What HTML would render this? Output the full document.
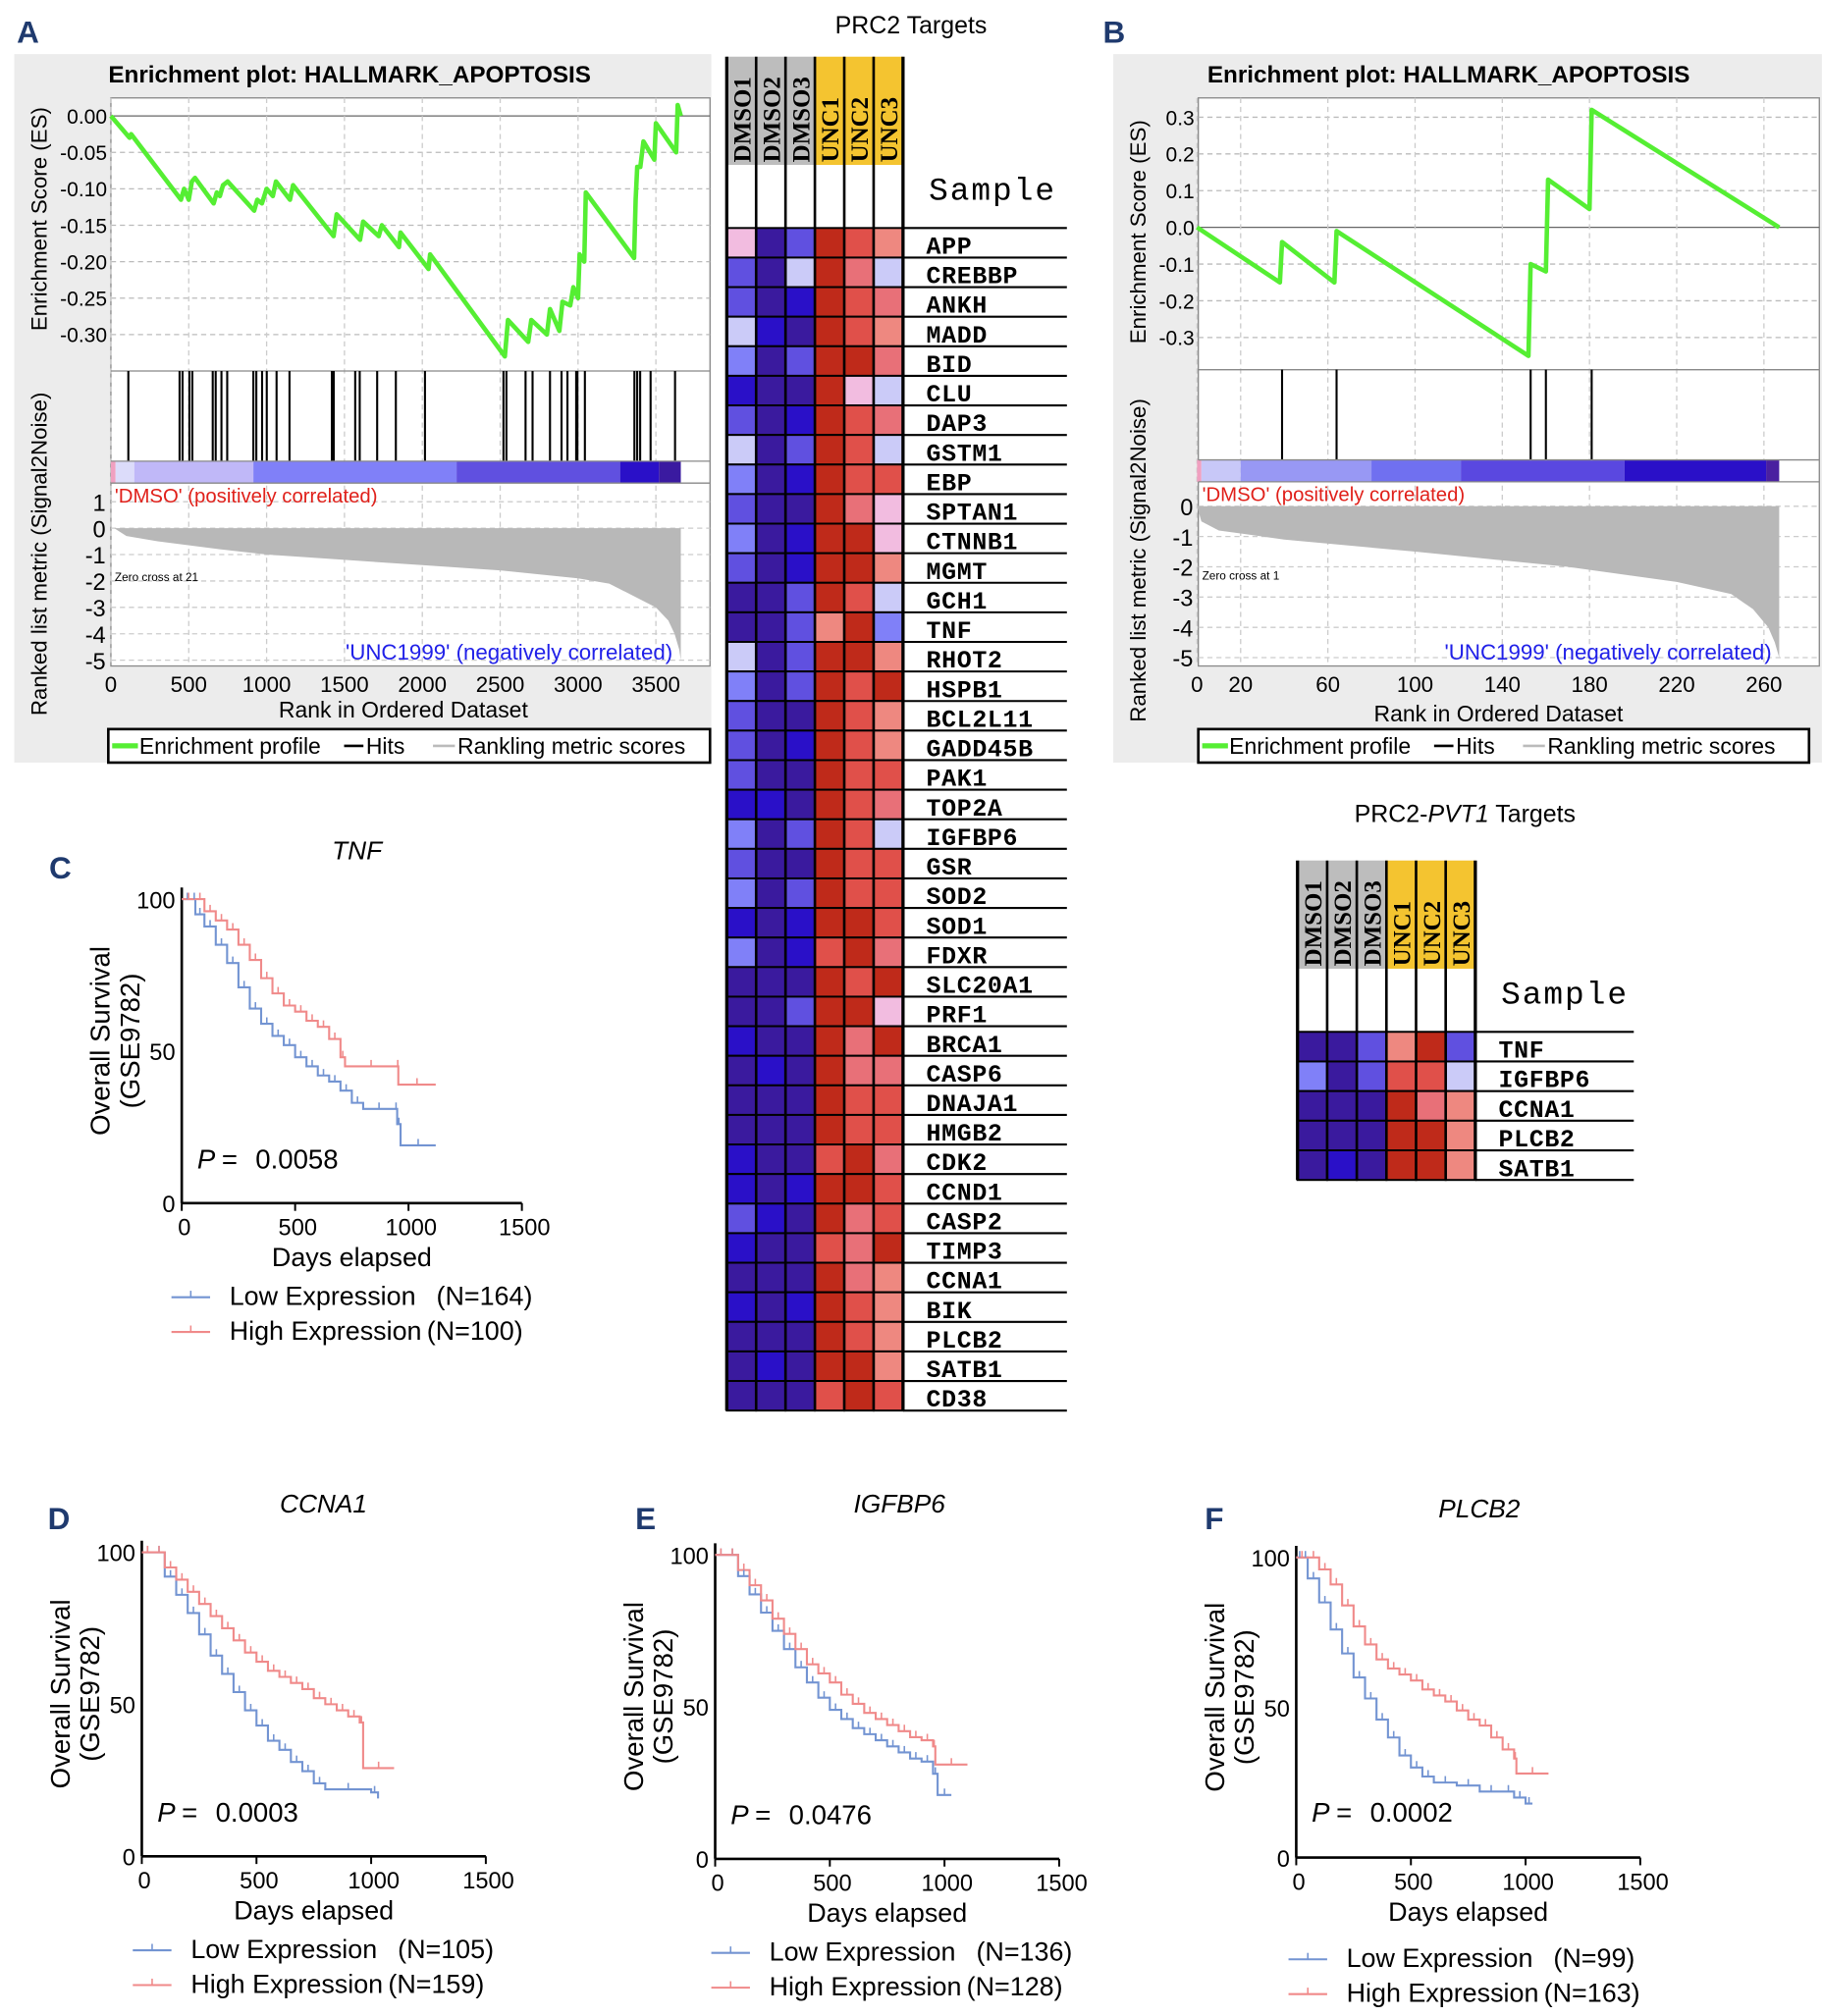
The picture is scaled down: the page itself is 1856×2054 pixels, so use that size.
<!DOCTYPE html>
<html><head><meta charset="utf-8"><style>
html,body{margin:0;padding:0;background:#fff;}
svg{display:block;font-family:"Liberation Sans",sans-serif;}
</style></head><body>
<svg id="fig" xmlns="http://www.w3.org/2000/svg" width="1856" height="2054" viewBox="0 0 1414 1565"></svg>
<script>
// ===== Data: GSEA panel A =====
const esRankA=[0,120,130,450,470,500,520,540,660,680,700,720,750,920,940,970,1000,1040,1060,1150,1170,1430,1450,1600,1620,1720,1740,1850,1860,2040,2050,2530,2550,2680,2700,2800,2820,2880,2900,2950,2970,3000,3010,3040,3050,3360,3370,3380,3400,3420,3490,3500,3630,3640,3660];
const esValA=[0,-0.03,-0.025,-0.115,-0.10,-0.115,-0.09,-0.085,-0.12,-0.105,-0.11,-0.095,-0.09,-0.13,-0.115,-0.12,-0.10,-0.11,-0.09,-0.115,-0.095,-0.165,-0.135,-0.17,-0.145,-0.165,-0.15,-0.18,-0.16,-0.21,-0.19,-0.33,-0.28,-0.31,-0.28,-0.30,-0.265,-0.295,-0.255,-0.26,-0.235,-0.25,-0.19,-0.20,-0.105,-0.195,-0.115,-0.07,-0.07,-0.035,-0.06,-0.01,-0.05,0.015,0.0];
const hitsA=[112,441,460,504,523,654,673,710,747,915,934,971,1001,1064,1147,1419,1431,1569,1598,1710,1830,2017,2521,2540,2663,2708,2820,2894,2932,2988,2996,3044,3362,3380,3399,3466,3623];
const metricRankA=[0,21,100,300,700,1000,1500,2000,2500,3000,3200,3300,3400,3500,3580,3620,3650,3660];
const metricValA=[1,0,-0.3,-0.5,-0.8,-1,-1.2,-1.4,-1.6,-1.9,-2.1,-2.4,-2.7,-3,-3.5,-4,-4.6,-5];
const barStopsA=[0,30,150,915,2220,3270,3520,3660];
const barColsA=["#f0a0c0","#dcdcfa","#c0b8f8","#8080f8","#6050e0","#2a10c8","#3a1aa0"];
const esTicksA=["0.00","-0.05","-0.10","-0.15","-0.20","-0.25","-0.30"];
const xTicksA=[0,500,1000,1500,2000,2500,3000,3500];
const mTicksA=[1,0,-1,-2,-3,-4,-5];
// ===== Data: GSEA panel B =====
const esRankB=[0,38,39,63,64,152,153,160,161,180,181,267];
const esValB=[0,-0.15,-0.04,-0.15,-0.01,-0.35,-0.10,-0.12,0.13,0.05,0.32,0.0];
const hitsB=[39,64,153,160,181];
const metricRankB=[0,2,10,40,100,170,220,245,255,262,265,267];
const metricValB=[0,-0.5,-0.8,-1.1,-1.5,-2,-2.5,-2.9,-3.4,-4,-4.5,-5];
const barStopsB=[0,2,20,80,121,196,261,267];
const barColsB=["#f0a0c0","#c8c8f8","#9898f4","#7070f0","#5a48e0","#2a10c8","#4a20a0"];
const esTicksB=["0.3","0.2","0.1","0.0","-0.1","-0.2","-0.3"];
const xTicksB=[0,20,60,100,140,180,220,260];
const mTicksB=[0,-1,-2,-3,-4,-5];
// ===== Data: heatmaps =====
const samples=["DMSO1","DMSO2","DMSO3","UNC1","UNC2","UNC3"];
const genes=["APP","CREBBP","ANKH","MADD","BID","CLU","DAP3","GSTM1","EBP","SPTAN1","CTNNB1","MGMT","GCH1","TNF","RHOT2","HSPB1","BCL2L11","GADD45B","PAK1","TOP2A","IGFBP6","GSR","SOD2","SOD1","FDXR","SLC20A1","PRF1","BRCA1","CASP6","DNAJA1","HMGB2","CDK2","CCND1","CASP2","TIMP3","CCNA1","BIK","PLCB2","SATB1","CD38"];
const levels=["PDBRrT","BDLRSL","BDERrS","LEDRrT","MDBRRS","EDDRPL","BDERrS","LDBRrL","MDERrr","BDDRSP","MDERRP","BDERRT","DDBRrL","DDBTRM","LDBRRT","MDBRrR","BDDRrT","BDERrT","BDDRrr","EEDRrS","MDBRrL","BDDRrr","MDBRrr","EDERRr","MDErRS","DDDRrR","DDBRRP","EDDRSR","DEDRSS","DDDRrr","DDDRrr","EDDrRS","EDERRr","BEDRSr","EDDrSR","DDDRST","EDERrT","DDDRrT","DEDRRT","DDDrRr"];
const genes2=["TNF","IGFBP6","CCNA1","PLCB2","SATB1"];
const levels2=["DDBTRB","MDBrrL","DDDRST","DDDRRT","DEDRRT"];
// ===== Data: survival curves =====
const kmC_lowDays=[0,50,60,100,150,200,250,300,350,400,450,500,550,600,650,700,750,800,940,950,965,1120];
const kmC_lowSurv=[100,100,95,91,85,79,71,64,59,55,52,48,45,42,40,37,33,31,31,26,19,19];
const kmC_highDays=[0,60,100,150,200,250,300,350,400,450,500,550,600,650,700,720,950,955,1120];
const kmC_highSurv=[100,100,96,93,90,85,80,74,69,65,63,60,58,54,48,45,45,39,39];
const kmD_lowDays=[0,50,100,150,200,250,300,350,400,450,500,550,600,650,700,750,800,1000,1030];
const kmD_lowSurv=[100,100,92,86,80,73,66,60,54,48,43,38,35,31,28,24,22,21,19];
const kmD_highDays=[0,50,100,150,200,250,300,350,400,450,500,550,600,650,700,750,800,850,900,950,965,1100];
const kmD_highSurv=[100,100,95,91,87,83,79,75,71,67,64,61,59,57,55,52,50,48,46,44,29,29];
const kmE_lowDays=[0,50,100,150,200,250,300,350,400,450,500,550,600,650,700,750,800,850,900,950,970,1030];
const kmE_lowSurv=[100,100,93,87,81,75,69,63,58,53,49,46,43,41,39,37,35,33,32,28,21,21];
const kmE_highDays=[0,50,100,150,200,250,300,350,400,450,500,550,600,650,700,750,800,850,900,950,960,1100];
const kmE_highSurv=[100,100,95,90,85,79,74,69,64,61,58,54,51,48,46,44,42,40,39,37,31,31];
const kmF_lowDays=[0,30,50,100,150,200,250,300,350,400,450,500,550,600,700,800,900,950,1000,1030];
const kmF_lowSurv=[100,100,93,85,76,68,60,53,46,40,34,30,27,25,24,22,22,20,18,18];
const kmF_highDays=[0,50,100,150,200,250,300,350,400,450,500,550,600,650,700,750,800,850,900,950,960,1100];
const kmF_highSurv=[100,100,96,91,84,77,71,66,63,61,59,56,54,52,49,46,44,40,36,33,28,28];
const kmXTicks=[0,500,1000,1500];
const kmYTicks=[0,50,100];

const NS="http://www.w3.org/2000/svg";
const svg=document.getElementById('fig');
function mk(tag,attrs,name,parent,txt){
  const el=document.createElementNS(NS,tag);
  for(const k in attrs) el.setAttribute(k,attrs[k]);
  
  
  if(txt!==undefined) el.textContent=txt;
  (parent||svg).appendChild(el);
  return el;
}
const palette={P:"#f2bce0",L:"#cbcbf8",M:"#8080f8",B:"#6050e0",D:"#3a1a9e",E:"#2a10c8",R:"#bf2a1a",r:"#e0504a",S:"#e87078",T:"#ee8880"};

function gsea(o){
  const g=mk('g',{},o.name);
  mk('rect',{x:o.bx,y:42,width:o.bw,height:550,fill:"#ececec"},'panel-background',g);
  mk('text',{x:o.lx,y:33,'font-size':24,'font-weight':'bold',fill:'#1f3a6e'},'panel-label',g,o.letter);
  mk('text',{x:o.tx,y:64,'font-size':18.5,'font-weight':'bold'},'plot-title',g,'Enrichment plot: HALLMARK_APOPTOSIS');
  const x0=o.x0,x1=o.x1;
  const X=v=>o.xa+v*o.xs;
  mk('rect',{x:x0,y:76,width:x1-x0,height:441,fill:'#fff',stroke:'#888','stroke-width':1},'plot-area',g);
  const Y=v=>o.esY0+v*o.esS;
  o.esTickVals.forEach((t,i)=>{
    const y=Y(t);
    mk('line',{x1:x0,x2:x1,y1:y,y2:y,stroke:(t==0?'#666':'#bbb'),'stroke-dasharray':(t==0?'':'4,3'),'stroke-width':1},'es-gridline',g);
    mk('text',{x:x0-3,y:y+6,'font-size':16,'text-anchor':'end'},'es-tick-label',g,o.esTicks[i]);
  });
  o.xTicks.forEach(t=>{
    mk('line',{x1:X(t),x2:X(t),y1:76,y2:517,stroke:'#ccc','stroke-dasharray':'4,3'},'x-gridline',g);
    mk('text',{x:X(t),y:o.xty,'font-size':17,'text-anchor':'middle'},'x-tick-label',g,String(t));
  });
  mk('line',{x1:x0,x2:x1,y1:o.hy0,y2:o.hy0,stroke:'#888'},'divider',g);
  mk('polyline',{points:o.esRank.map((r,i)=>X(r)+','+Y(o.esVal[i])).join(' '),fill:'none',stroke:'#55ee33','stroke-width':3.5,'stroke-linejoin':'round'},'enrichment-profile',g);
  o.hits.forEach(h=>mk('line',{x1:X(h),x2:X(h),y1:o.hy0,y2:o.hy1,stroke:'#000','stroke-width':1.6},'hit-line',g));
  for(let i=0;i<o.barCols.length;i++){
    mk('rect',{x:X(o.barStops[i]),y:o.hy1,width:X(o.barStops[i+1])-X(o.barStops[i]),height:17,fill:o.barCols[i]},'ranking-colorbar-segment',g);
  }
  mk('line',{x1:x0,x2:x1,y1:o.hy1,y2:o.hy1,stroke:'#888'},'divider',g);
  mk('line',{x1:x0,x2:x1,y1:o.hy1+17,y2:o.hy1+17,stroke:'#888'},'divider',g);
  const M=v=>o.mY0-v*o.mS;
  o.mTicks.forEach(t=>mk('text',{x:x0-4,y:M(t)+7,'font-size':18,'text-anchor':'end'},'metric-tick-label',g,String(t)));
  o.mTicks.forEach(t=>mk('line',{x1:x0,x2:x1,y1:M(t),y2:M(t),stroke:'#ccc','stroke-dasharray':'4,3'},'metric-gridline',g));
  let pts=X(0)+','+M(0)+' '+o.mRank.map((r,i)=>X(r)+','+M(Math.min(0,o.mVal[i]))).join(' ')+' '+X(o.mRank[o.mRank.length-1])+','+M(0);
  mk('polygon',{points:pts,fill:'#b8b8b8'},'ranked-metric-area',g);
  mk('text',{x:x0+3,y:o.hy1+32,'font-size':15.5,fill:'#e0201a'},'positive-label',g,"'DMSO' (positively correlated)");
  mk('text',{x:x0+3,y:o.zy,'font-size':9},'zero-cross-label',g,o.zero);
  mk('text',{x:o.negx,y:512,'font-size':17,fill:'#2020e8','text-anchor':'end'},'negative-label',g,"'UNC1999' (negatively correlated)");
  mk('text',{x:o.xlc,y:o.xly,'font-size':17.5,'text-anchor':'middle'},'x-axis-title',g,'Rank in Ordered Dataset');
  mk('text',{transform:`translate(${o.ylx},${o.esyc}) rotate(-90)`,'font-size':17,'text-anchor':'middle'},'es-axis-title',g,'Enrichment Score (ES)');
  mk('text',{transform:`translate(${o.ylx},${o.myc}) rotate(-90)`,'font-size':17,'text-anchor':'middle'},'metric-axis-title',g,'Ranked list metric (Signal2Noise)');
  const lg=mk('g',{},'legend',g);
  mk('rect',{x:o.lgx,y:566,width:o.lgw,height:26,fill:'#fff',stroke:'#000','stroke-width':2},'legend-box',lg);
  mk('line',{x1:o.lgx+3,x2:o.lgx+23,y1:579,y2:579,stroke:'#55ee33','stroke-width':4},'legend-entry-enrichment-swatch',lg);
  mk('text',{x:o.lgx+24,y:585,'font-size':17.5},'legend-entry-enrichment',lg,'Enrichment profile');
  mk('line',{x1:o.lgx+183,x2:o.lgx+198,y1:579,y2:579,stroke:'#000','stroke-width':2},'legend-entry-hits-swatch',lg);
  mk('text',{x:o.lgx+200,y:585,'font-size':17.5},'legend-entry-hits',lg,'Hits');
  mk('line',{x1:o.lgx+252,x2:o.lgx+269,y1:579,y2:579,stroke:'#bbb','stroke-width':2},'legend-entry-metric-swatch',lg);
  mk('text',{x:o.lgx+271,y:585,'font-size':17.5},'legend-entry-metric',lg,'Rankling metric scores');
}
gsea({name:'gsea-panel-a',letter:'A',lx:13,bx:11,bw:541,tx:84,x0:86,x1:551,xa:86,xs:(509-86)/3500,
  esY0:90,esS:-565.7,esTicks:esTicksA,esTickVals:[0,-0.05,-0.1,-0.15,-0.2,-0.25,-0.3],esRank:esRankA,esVal:esValA,
  xTicks:xTicksA,xty:537,hy0:288,hy1:358,hits:hitsA,barStops:barStopsA,barCols:barColsA,
  mY0:410,mS:20.5,mTicks:mTicksA,mRank:metricRankA,mVal:metricValA,zy:451,zero:'Zero cross at 21',negx:522,
  xlc:313,xly:557,ylx:36,esyc:170,myc:430,lgx:84,lgw:467});
gsea({name:'gsea-panel-b',letter:'B',lx:856,bx:864,bw:550,tx:937,x0:930,x1:1412,xa:929,xs:(1369-929)/260,
  esY0:176.5,esS:-285,esTicks:esTicksB,esTickVals:[0.3,0.2,0.1,0,-0.1,-0.2,-0.3],esRank:esRankB,esVal:esValB,
  xTicks:xTicksB,xty:537,hy0:287,hy1:357,hits:hitsB,barStops:barStopsB,barCols:barColsB,
  mY0:393,mS:23.5,mTicks:mTicksB,mRank:metricRankB,mVal:metricValB,zy:450,zero:'Zero cross at 1',negx:1375,
  xlc:1163,xly:560,ylx:889,esyc:180,myc:435,lgx:930,lgw:474});

function heatmap(o){
  const g=mk('g',{},o.name);
  mk('text',{x:o.tcx,y:o.ty,'font-size':19,'text-anchor':'middle'},'heatmap-title',g,'').innerHTML=o.title;
  const cw=o.cw,x0=o.x0;
  samples.forEach((s,i)=>{
    mk('rect',{x:x0+i*cw,y:o.hy,width:cw,height:o.hh,fill:i<3?'#bdbdbd':'#f4c430'},'sample-header-'+s,g);
    mk('text',{transform:`translate(${x0+i*cw+cw/2+7},${o.hy+o.hh-2}) rotate(-90)`,'font-size':19,'font-family':'Liberation Serif, serif','font-weight':'bold'},'sample-label',g,s);
  });
  mk('text',{x:o.x0+6*cw+20,y:o.sy,'font-size':25,'font-family':'Liberation Mono, monospace','letter-spacing':1.5},'sample-header-title',g,'Sample');
  o.genes.forEach((gn,r)=>{
    const y=o.ry+r*o.rh;
    for(let c=0;c<6;c++){
      mk('rect',{x:x0+c*cw,y:y,width:cw,height:o.rh,fill:palette[o.levels[r][c]],stroke:'#000','stroke-width':1.5},'heatmap-cell',g);
    }
    mk('line',{x1:x0+6*cw,x2:o.lx2,y1:y+o.rh,y2:y+o.rh,stroke:'#000','stroke-width':1.6},'row-rule',g);
    mk('text',{x:o.x0+6*cw+18,y:y+o.rh-3,'font-size':19,'font-family':'Liberation Mono, monospace','font-weight':'bold','letter-spacing':0.5},'gene-label',g,gn);
  });
  mk('line',{x1:x0+6*cw,x2:o.lx2,y1:o.ry,y2:o.ry,stroke:'#000','stroke-width':1.6},'row-rule',g);
  for(let c=0;c<=6;c++) mk('line',{x1:x0+c*cw,x2:x0+c*cw,y1:o.hy,y2:o.ry+o.genes.length*o.rh,stroke:'#000','stroke-width':(c==0||c==6)?2.5:2},'column-divider',g);
}
heatmap({name:'prc2-targets-heatmap',title:'PRC2 Targets',tcx:707,ty:26,x0:564,cw:22.8,hy:44,hh:84,sy:155,ry:177,rh:22.95,lx2:828,genes:genes,levels:levels});
heatmap({name:'prc2-pvt1-heatmap',title:'PRC2-<tspan font-style="italic">PVT1</tspan> Targets',tcx:1137,ty:638,x0:1007,cw:23,hy:668,hh:84,sy:779,ry:801,rh:23,lx2:1268,genes:genes2,levels:levels2});

function km(o){
  const g=mk('g',{},o.name);
  const X=d=>o.x0+d*(o.x1500-o.x0)/1500, Y=s=>o.y0-s*(o.y0-o.y100)/100;
  if(o.letter) mk('text',{x:o.lx,y:o.ly,'font-size':24,'font-weight':'bold',fill:'#1f3a6e'},'panel-label',g,o.letter);
  mk('text',{x:o.tcx,y:o.ty,'font-size':20,'font-style':'italic','text-anchor':'middle'},'plot-title',g,o.title);
  mk('line',{x1:X(0),x2:X(0),y1:o.y100-9,y2:o.y0,stroke:'#000','stroke-width':2},'y-axis-line',g);
  mk('line',{x1:X(0),x2:X(1500),y1:o.y0,y2:o.y0,stroke:'#000','stroke-width':2},'x-axis-line',g);
  kmXTicks.forEach(t=>{
    mk('line',{x1:X(t),x2:X(t),y1:o.y0,y2:o.y0+6,stroke:'#000','stroke-width':1.5},'x-tick',g);
    mk('text',{x:X(t)+2,y:o.y0+25,'font-size':18,'text-anchor':'middle'},'x-tick-label',g,String(t));
  });
  kmYTicks.forEach(t=>mk('text',{x:X(0)-5,y:Y(t)+7,'font-size':18,'text-anchor':'end'},'y-tick-label',g,String(t)));
  mk('text',{x:(X(0)+X(1500))/2,y:o.y0+49,'font-size':20.5,'text-anchor':'middle'},'x-axis-title',g,'Days elapsed');
  const yc=(o.y0+o.y100)/2-8;
  mk('text',{transform:`translate(${X(0)-56},${yc}) rotate(-90)`,'font-size':21,'text-anchor':'middle'},'y-axis-title',g,'Overall Survival');
  mk('text',{transform:`translate(${X(0)-33},${yc}) rotate(-90)`,'font-size':21,'text-anchor':'middle'},'y-axis-title-dataset',g,'(GSE9782)');
  const step=(d,s)=>{let p=[];for(let i=0;i<d.length;i++){if(i>0)p.push(X(d[i])+','+Y(s[i-1]));p.push(X(d[i])+','+Y(s[i]));}return p.join(' ');};
  mk('polyline',{points:step(o.lowD,o.lowS),fill:'none',stroke:'#7394d2','stroke-width':1.6},'low-expression-curve',g);
  mk('polyline',{points:step(o.highD,o.highS),fill:'none',stroke:'#f08a8a','stroke-width':1.6},'high-expression-curve',g);
  [[o.lowD,o.lowS,'#7394d2'],[o.highD,o.highS,'#f08a8a']].forEach(([d,s,c])=>{
    for(let i=1;i<d.length;i++){ const xm=(X(d[i-1])+X(d[i]))/2; mk('line',{x1:xm,x2:xm,y1:Y(s[i-1]),y2:Y(s[i-1])-5,stroke:c,'stroke-width':1.2},'censor-mark',g);}
  });
  const p=mk('text',{x:X(0)+12,y:o.py,'font-size':21},'p-value',g,'');
  p.innerHTML='<tspan font-style="italic">P</tspan><tspan dx="5">=</tspan><tspan dx="14">'+o.p+'</tspan>';
  mk('line',{x1:o.lgx,x2:o.lgx+30,y1:o.lgy-6,y2:o.lgy-6,stroke:'#7394d2','stroke-width':1.6},'legend-entry-low-swatch',g);
  mk('line',{x1:o.lgx+15,x2:o.lgx+15,y1:o.lgy-6,y2:o.lgy-11,stroke:'#7394d2','stroke-width':1.2},'legend-tick',g);
  const t1=mk('text',{x:o.lgx+45,y:o.lgy,'font-size':20.5},'legend-entry-low',g,'');
  t1.innerHTML='Low Expression<tspan dx="16">(N='+o.nLow+')</tspan>';
  mk('line',{x1:o.lgx,x2:o.lgx+30,y1:o.lgy+21,y2:o.lgy+21,stroke:'#f08a8a','stroke-width':1.6},'legend-entry-high-swatch',g);
  mk('line',{x1:o.lgx+15,x2:o.lgx+15,y1:o.lgy+21,y2:o.lgy+16,stroke:'#f08a8a','stroke-width':1.2},'legend-tick',g);
  const t2=mk('text',{x:o.lgx+45,y:o.lgy+27,'font-size':20.5},'legend-entry-high',g,'');
  t2.innerHTML='High Expression<tspan dx="4">(N='+o.nHigh+')</tspan>';
}
km({name:'km-panel-c-tnf',letter:'C',lx:38,ly:682,title:'TNF',tcx:277,ty:667,x0:141,x1500:405,y0:934,y100:698,p:'0.0058',lgx:133,lgy:1013,nLow:164,nHigh:100,py:907,lowD:kmC_lowDays,lowS:kmC_lowSurv,highD:kmC_highDays,highS:kmC_highSurv});
km({name:'km-panel-d-ccna1',letter:'D',lx:37,ly:1187,title:'CCNA1',tcx:251,ty:1174,x0:110,x1500:377,y0:1441,y100:1205,p:'0.0003',lgx:103,lgy:1520,nLow:105,nHigh:159,py:1414,lowD:kmD_lowDays,lowS:kmD_lowSurv,highD:kmD_highDays,highS:kmD_highSurv});
km({name:'km-panel-e-igfbp6',letter:'E',lx:493,ly:1187,title:'IGFBP6',tcx:698,ty:1174,x0:555,x1500:822,y0:1443,y100:1207,p:'0.0476',lgx:552,lgy:1522,nLow:136,nHigh:128,py:1416,lowD:kmE_lowDays,lowS:kmE_lowSurv,highD:kmE_highDays,highS:kmE_highSurv});
km({name:'km-panel-f-plcb2',letter:'F',lx:935,ly:1187,title:'PLCB2',tcx:1148,ty:1178,x0:1006,x1500:1273,y0:1442,y100:1209,p:'0.0002',lgx:1000,lgy:1527,nLow:99,nHigh:163,py:1414,lowD:kmF_lowDays,lowS:kmF_lowSurv,highD:kmF_highDays,highS:kmF_highSurv});
</script>
</body></html>
